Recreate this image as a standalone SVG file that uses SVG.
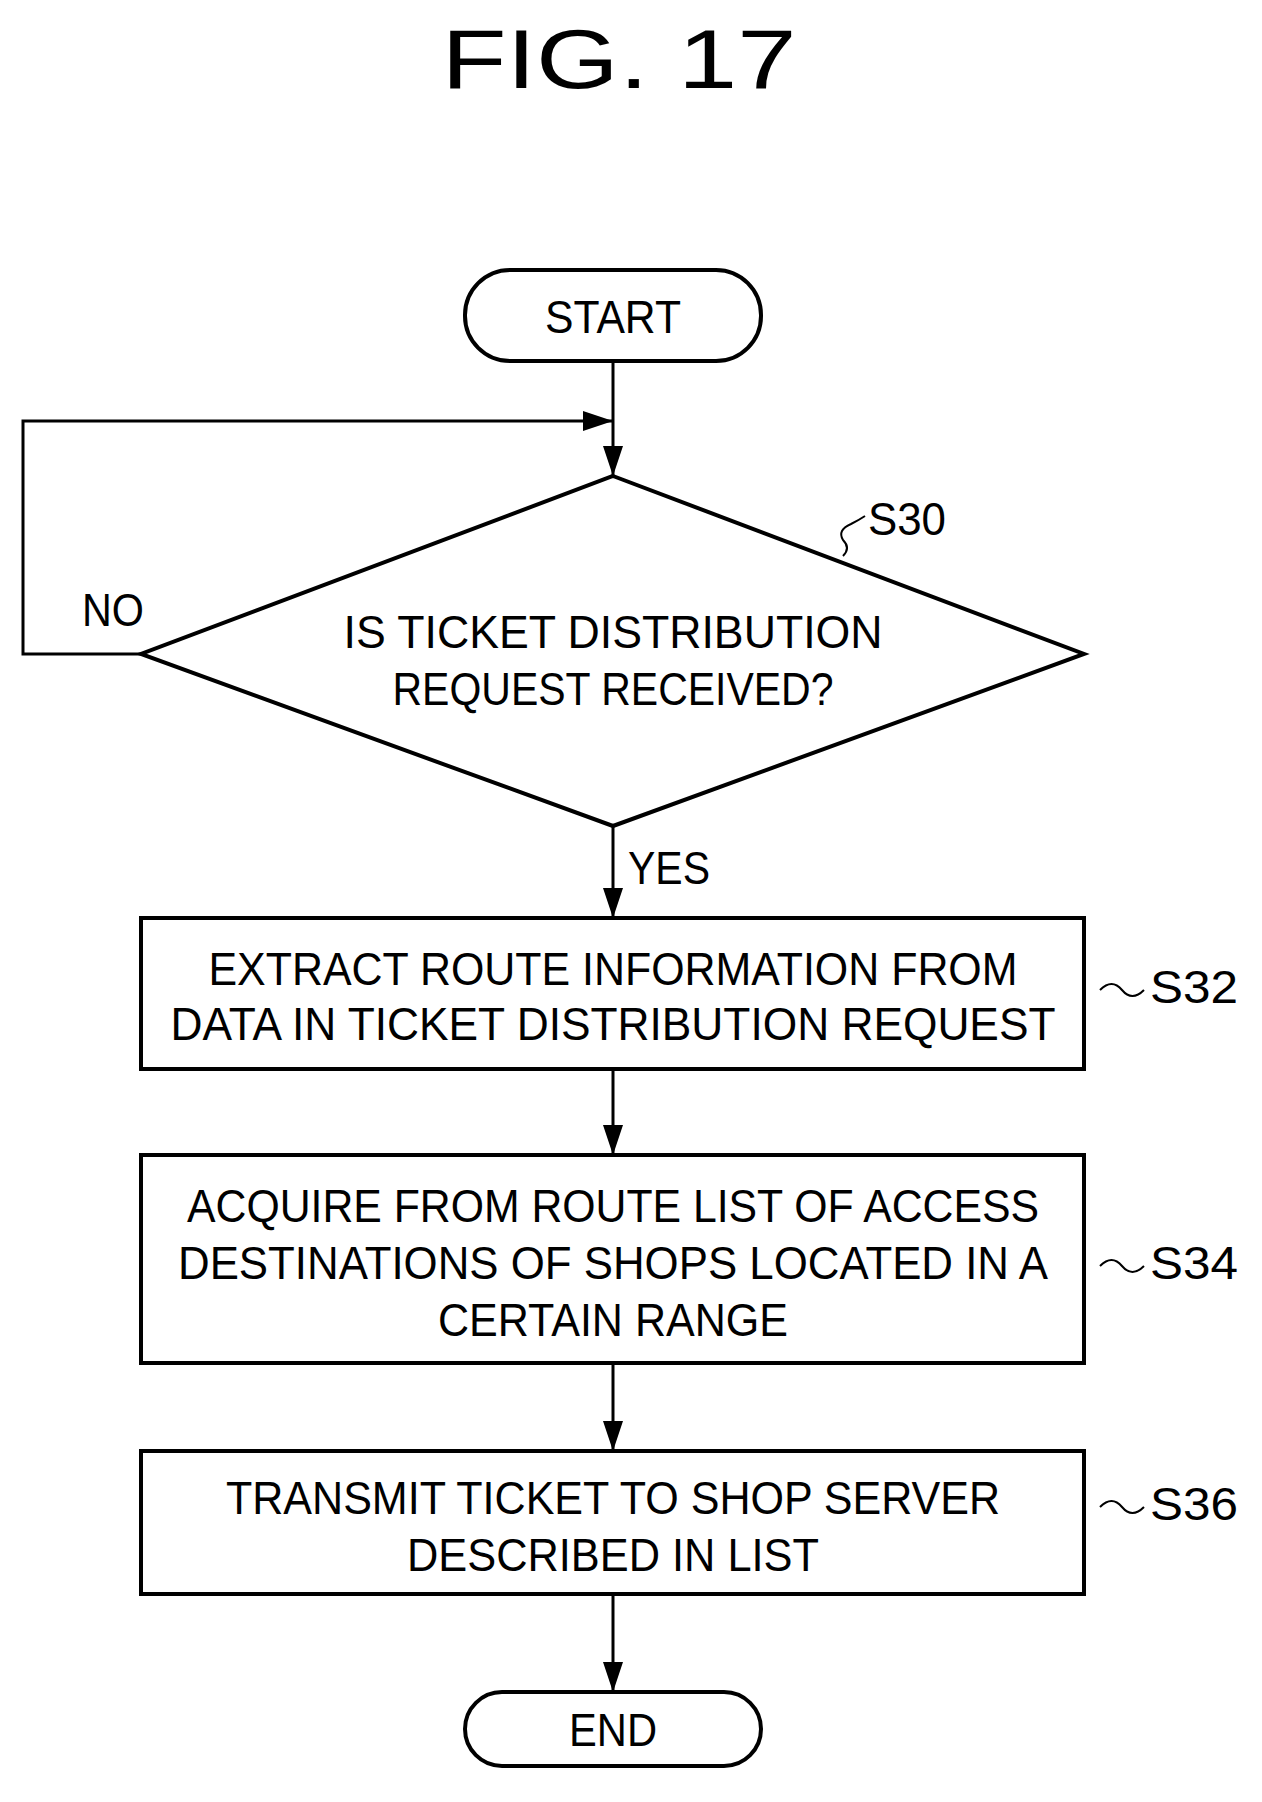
<svg xmlns="http://www.w3.org/2000/svg" width="1262" height="1802" viewBox="0 0 1262 1802">
<style>
.s{fill:none;stroke:#000;stroke-width:4}
.t{font-family:"Liberation Sans",Arial,sans-serif;font-size:46px;fill:#000;text-anchor:middle}
.l{font-family:"Liberation Sans",Arial,sans-serif;font-size:46px;fill:#000}
</style>
<defs><marker id="a" markerWidth="30" markerHeight="20" refX="30" refY="10" orient="auto" markerUnits="userSpaceOnUse" viewBox="0 0 30 20"><path d="M0,0 L30,10 L0,20 Z"/></marker></defs>
<rect width="1262" height="1802" fill="#fff"/>
<text x="619" y="88" class="t" style="font-size:84px" textLength="355" lengthAdjust="spacingAndGlyphs">FIG. 17</text>
<g id="start"><rect x="465" y="270" width="296" height="91" rx="45" class="s"/><text x="613" y="333" class="t" textLength="136" lengthAdjust="spacingAndGlyphs">START</text></g>
<g id="s30"><path d="M613,476 L1084,654 L613,826 L141,654 Z" class="s"/>
<text x="613" y="648" class="t" textLength="539" lengthAdjust="spacingAndGlyphs">IS TICKET DISTRIBUTION</text>
<text x="613" y="705" class="t" textLength="441" lengthAdjust="spacingAndGlyphs">REQUEST RECEIVED?</text>
<path d="M843,556 q8,-8 0,-16 q-6,-10 8,-16 q8,-4 14,-8" class="s" style="stroke-width:2"/>
<text x="868" y="535" class="l" textLength="78" lengthAdjust="spacingAndGlyphs">S30</text></g>
<g id="s32"><rect x="141" y="918" width="943" height="151" class="s"/>
<text x="613" y="985" class="t" textLength="809" lengthAdjust="spacingAndGlyphs">EXTRACT ROUTE INFORMATION FROM</text>
<text x="613" y="1040" class="t" textLength="885" lengthAdjust="spacingAndGlyphs">DATA IN TICKET DISTRIBUTION REQUEST</text>
<path d="M1100,990 q12,-12 22,0 q10,12 22,0" class="s" style="stroke-width:2"/>
<text x="1150" y="1003" class="l" textLength="88" lengthAdjust="spacingAndGlyphs">S32</text></g>
<g id="s34"><rect x="141" y="1155" width="943" height="208" class="s"/>
<text x="613" y="1222" class="t" textLength="852" lengthAdjust="spacingAndGlyphs">ACQUIRE FROM ROUTE LIST OF ACCESS</text>
<text x="613" y="1279" class="t" textLength="870" lengthAdjust="spacingAndGlyphs">DESTINATIONS OF SHOPS LOCATED IN A</text>
<text x="613" y="1336" class="t" textLength="350" lengthAdjust="spacingAndGlyphs">CERTAIN RANGE</text>
<path d="M1100,1266 q12,-12 22,0 q10,12 22,0" class="s" style="stroke-width:2"/>
<text x="1150" y="1279" class="l" textLength="88" lengthAdjust="spacingAndGlyphs">S34</text></g>
<g id="s36"><rect x="141" y="1451" width="943" height="143" class="s"/>
<text x="613" y="1514" class="t" textLength="774" lengthAdjust="spacingAndGlyphs">TRANSMIT TICKET TO SHOP SERVER</text>
<text x="613" y="1571" class="t" textLength="412" lengthAdjust="spacingAndGlyphs">DESCRIBED IN LIST</text>
<path d="M1100,1507 q12,-12 22,0 q10,12 22,0" class="s" style="stroke-width:2"/>
<text x="1150" y="1520" class="l" textLength="88" lengthAdjust="spacingAndGlyphs">S36</text></g>
<g id="end"><rect x="465" y="1692" width="296" height="74" rx="37" class="s"/><text x="613" y="1746" class="t" textLength="88" lengthAdjust="spacingAndGlyphs">END</text></g>
<g id="connectors" class="s" style="stroke-width:3">
<line x1="613" y1="361" x2="613" y2="476" marker-end="url(#a)"/>
<polyline points="141,654 23,654 23,421 613,421" marker-end="url(#a)"/>
<line x1="613" y1="826" x2="613" y2="918" marker-end="url(#a)"/>
<line x1="613" y1="1069" x2="613" y2="1155" marker-end="url(#a)"/>
<line x1="613" y1="1363" x2="613" y2="1451" marker-end="url(#a)"/>
<line x1="613" y1="1594" x2="613" y2="1692" marker-end="url(#a)"/>
</g>
<text x="82" y="626" class="l" textLength="62" lengthAdjust="spacingAndGlyphs">NO</text>
<text x="628" y="884" class="l" textLength="82" lengthAdjust="spacingAndGlyphs">YES</text>
</svg>
